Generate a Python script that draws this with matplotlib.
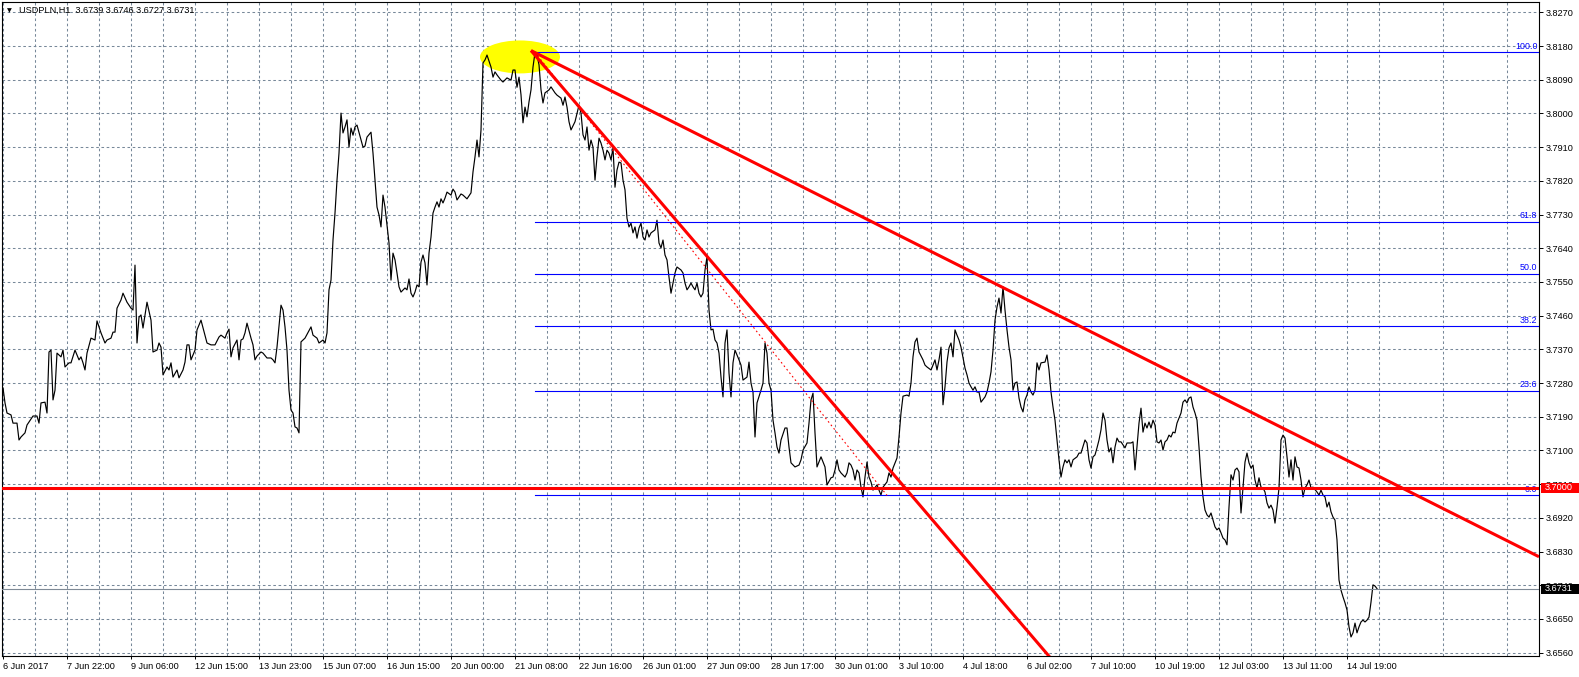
import matplotlib
matplotlib.use('Agg')
import numpy as np
import matplotlib.pyplot as plt
from matplotlib.patches import Ellipse, Rectangle
from matplotlib.transforms import blended_transform_factory

plt.rcParams['font.family'] = ['Liberation Sans', 'DejaVu Sans']

#  USDPLN H1 close, x = bar number counted from the first bar on the chart
bars = [0, 1, 2, 4, 5, 7, 8, 9, 11, 12, 13, 15, 17, 18, 19, 21, 22, 23, 24, 25,
        26, 27, 29, 30, 31, 33, 34, 36, 38, 39, 40, 41, 42, 44, 46, 47, 49, 51, 52, 54,
        55, 56, 57, 59, 60, 62, 64, 65, 66, 67, 68, 69, 70, 71, 72, 74, 75, 77, 78, 79,
        80, 82, 83, 84, 85, 87, 88, 90, 91, 92, 93, 94, 96, 97, 99, 101, 102, 104, 106, 108,
        109, 111, 112, 113, 114, 115, 117, 118, 119, 120, 121, 122, 124, 125, 126, 127, 129, 130, 132, 134,
        135, 136, 137, 139, 140, 141, 142, 143, 144, 145, 146, 147, 148, 149, 151, 154, 155, 157, 158, 160,
        161, 162, 163, 164, 165, 166, 167, 168, 169, 170, 171, 172, 173, 174, 175, 176, 177, 179, 180, 181,
        182, 184, 185, 186, 187, 188, 189, 190, 191, 192, 193, 194, 195, 196, 197, 198, 199, 201, 202, 203,
        204, 205, 206, 207, 208, 209, 210, 211, 212, 213, 214, 215, 216, 217, 218, 219, 220, 221, 222, 224,
        225, 226, 227, 229, 230, 232, 234, 235, 236, 237, 238, 239, 240, 241, 242, 244, 245, 246, 247, 249,
        250, 252, 254, 255, 256, 257, 258, 259, 260, 261, 262, 263, 264, 265, 266, 267, 268, 269, 270, 271,
        273, 274, 276, 277, 279, 280, 281, 282, 283, 284, 286, 288, 289, 290, 291, 292, 293, 294, 295, 296,
        297, 298, 299, 300, 301, 302, 303, 304, 305, 306, 307, 308, 309, 310, 311, 312, 313, 314, 315, 316,
        317, 318, 319, 320, 321, 322, 323, 324, 326, 327, 328, 329, 330, 331, 332, 333, 334, 336, 337, 339,
        340, 341, 342, 343, 344, 345, 346, 347, 348, 349, 350, 351, 352, 353, 354, 355, 356, 357, 358, 359,
        360, 361, 362, 363, 364, 365, 366, 368, 369, 370, 372, 373, 374, 375, 376, 377, 379, 380, 381, 382,
        383, 384, 385, 386, 387, 388, 389, 391, 392, 393, 394, 396, 398, 399, 400, 402, 403, 404, 405, 406,
        407, 409, 411, 412, 414, 415, 416, 417, 418, 419, 421, 422, 423, 424, 425, 426, 427, 428, 429, 430,
        431, 432, 433, 434, 435, 437, 438, 439, 440, 442, 443, 444, 445, 447, 448, 449, 450, 452, 453, 454,
        455, 456, 457, 458, 460, 461, 462, 464, 465, 466, 467, 468, 469, 470, 471, 472, 473, 474, 475, 476,
        477, 478, 479, 481, 482, 483, 484, 485, 486, 487, 488, 489, 491, 492, 493, 494, 495, 496, 497, 498,
        499, 500, 501, 502, 503, 504, 505, 506, 507, 508, 509, 510, 511, 512, 513, 514, 515, 516, 517, 518,
        519, 521, 522, 523, 524, 525, 526, 527, 528, 529, 530, 531, 532, 533, 534, 535, 537, 538, 539, 541,
        542, 543, 544, 545, 546, 547, 548, 549, 550, 551, 552, 553, 554, 555, 556, 557, 558, 559, 561, 562,
        564, 565, 566, 567, 568, 569, 570, 571, 572, 573, 574, 575, 576, 577, 578, 579, 580, 581, 582, 583,
        584, 585, 586, 587, 589, 590, 591, 592, 593, 594, 595, 596, 597, 598, 599, 600, 601, 602, 603, 604,
        605, 606, 607, 608, 609, 610, 611, 612, 613, 614, 615, 616, 617, 618, 619, 620, 621, 622, 623, 624,
        625, 626, 627, 628, 629, 630, 631, 632, 633, 634, 635, 636, 637, 638, 639, 640, 641, 642, 643, 644,
        645, 646, 647, 648, 649, 650, 651, 652, 653, 654, 655, 657, 658, 659, 660, 661, 662, 663, 664, 665,
        666, 667, 668, 669, 670, 671, 672, 673, 674, 675, 676, 677, 678, 679, 680, 681, 682, 683, 684, 685,
        686, 687]

close = [3.7267, 3.7227, 3.7200, 3.7195, 3.7173, 3.7173, 3.7128, 3.7136, 3.7147, 3.7168, 3.7176, 3.7192, 3.7192, 3.7173, 3.7227, 3.7229, 3.7200, 3.7363, 3.7368, 3.7235,
         3.7261, 3.7360, 3.7350, 3.7368, 3.7323, 3.7334, 3.7334, 3.7368, 3.7342, 3.7350, 3.7334, 3.7315, 3.7360, 3.7400, 3.7395, 3.7446, 3.7414, 3.7387, 3.7395, 3.7400,
         3.7416, 3.7416, 3.7480, 3.7502, 3.7520, 3.7496, 3.7480, 3.7475, 3.7595, 3.7387, 3.7456, 3.7462, 3.7427, 3.7462, 3.7496, 3.7448, 3.7363, 3.7368, 3.7387, 3.7376,
         3.7302, 3.7323, 3.7315, 3.7334, 3.7296, 3.7315, 3.7294, 3.7315, 3.7336, 3.7382, 3.7382, 3.7342, 3.7368, 3.7422, 3.7448, 3.7408, 3.7387, 3.7382, 3.7382, 3.7403,
         3.7408, 3.7400, 3.7414, 3.7424, 3.7350, 3.7374, 3.7395, 3.7342, 3.7395, 3.7398, 3.7414, 3.7440, 3.7400, 3.7382, 3.7342, 3.7352, 3.7363, 3.7360, 3.7347, 3.7347,
         3.7342, 3.7334, 3.7376, 3.7488, 3.7475, 3.7430, 3.7368, 3.7261, 3.7208, 3.7200, 3.7163, 3.7160, 3.7147, 3.7390, 3.7400, 3.7430, 3.7408, 3.7400, 3.7387, 3.7395,
         3.7387, 3.7414, 3.7529, 3.7555, 3.7662, 3.7734, 3.7822, 3.7894, 3.8001, 3.7948, 3.7964, 3.7983, 3.7910, 3.7961, 3.7942, 3.7964, 3.7969, 3.7929, 3.7910, 3.7913,
         3.7937, 3.7950, 3.7894, 3.7822, 3.7750, 3.7729, 3.7697, 3.7782, 3.7750, 3.7702, 3.7654, 3.7555, 3.7627, 3.7609, 3.7574, 3.7537, 3.7523, 3.7534, 3.7529, 3.7558,
         3.7520, 3.7510, 3.7523, 3.7542, 3.7537, 3.7603, 3.7622, 3.7601, 3.7542, 3.7627, 3.7670, 3.7734, 3.7750, 3.7764, 3.7750, 3.7772, 3.7761, 3.7774, 3.7790, 3.7782,
         3.7798, 3.7790, 3.7769, 3.7785, 3.7782, 3.7772, 3.7788, 3.7844, 3.7884, 3.7929, 3.7884, 3.7956, 3.8135, 3.8143, 3.8156, 3.8124, 3.8097, 3.8111, 3.8103, 3.8089,
         3.8084, 3.8095, 3.8089, 3.8116, 3.8116, 3.8070, 3.8097, 3.8050, 3.7975, 3.8017, 3.7991, 3.8031, 3.8063, 3.8124, 3.8163, 3.8156, 3.8130, 3.8063, 3.8028, 3.8055,
         3.8063, 3.8071, 3.8055, 3.8049, 3.8041, 3.8022, 3.8044, 3.8017, 3.7978, 3.7956, 3.7978, 3.8022, 3.8001, 3.7943, 3.7929, 3.7964, 3.7902, 3.7929, 3.7910, 3.7822,
         3.7884, 3.7934, 3.7921, 3.7902, 3.7876, 3.7902, 3.7894, 3.7876, 3.7908, 3.7803, 3.7849, 3.7870, 3.7868, 3.7822, 3.7796, 3.7720, 3.7697, 3.7707, 3.7681, 3.7697,
         3.7667, 3.7694, 3.7707, 3.7670, 3.7662, 3.7689, 3.7670, 3.7681, 3.7689, 3.7715, 3.7654, 3.7641, 3.7662, 3.7622, 3.7609, 3.7563, 3.7520, 3.7574, 3.7590, 3.7582,
         3.7574, 3.7547, 3.7529, 3.7537, 3.7547, 3.7537, 3.7529, 3.7547, 3.7520, 3.7510, 3.7520, 3.7582, 3.7617, 3.7475, 3.7422, 3.7424, 3.7395, 3.7387, 3.7360, 3.7296,
         3.7243, 3.7387, 3.7422, 3.7307, 3.7243, 3.7334, 3.7368, 3.7342, 3.7328, 3.7288, 3.7296, 3.7336, 3.7280, 3.7256, 3.7136, 3.7227, 3.7261, 3.7280, 3.7387, 3.7360,
         3.7280, 3.7261, 3.7181, 3.7147, 3.7109, 3.7093, 3.7128, 3.7160, 3.7160, 3.7109, 3.7067, 3.7056, 3.7061, 3.7075, 3.7101, 3.7120, 3.7173, 3.7235, 3.7253, 3.7147,
         3.7056, 3.7083, 3.7056, 3.7008, 3.7027, 3.7029, 3.7048, 3.7075, 3.7048, 3.7040, 3.7029, 3.7040, 3.7067, 3.7061, 3.7048, 3.7021, 3.7048, 3.7040, 3.7002, 3.6976,
         3.7029, 3.7069, 3.7029, 3.7016, 3.6994, 3.7008, 3.6994, 3.6981, 3.7002, 3.7016, 3.7040, 3.7029, 3.7053, 3.7080, 3.7136, 3.7200, 3.7245, 3.7248, 3.7245, 3.7280,
         3.7350, 3.7390, 3.7400, 3.7363, 3.7342, 3.7328, 3.7323, 3.7315, 3.7328, 3.7342, 3.7315, 3.7342, 3.7376, 3.7222, 3.7270, 3.7336, 3.7374, 3.7387, 3.7350, 3.7422,
         3.7408, 3.7395, 3.7376, 3.7320, 3.7302, 3.7280, 3.7270, 3.7261, 3.7270, 3.7256, 3.7256, 3.7229, 3.7243, 3.7256, 3.7280, 3.7310, 3.7368, 3.7448, 3.7483, 3.7507,
         3.7467, 3.7537, 3.7475, 3.7422, 3.7376, 3.7342, 3.7261, 3.7280, 3.7283, 3.7240, 3.7216, 3.7203, 3.7235, 3.7248, 3.7270, 3.7256, 3.7248, 3.7261, 3.7334, 3.7315,
         3.7334, 3.7336, 3.7355, 3.7315, 3.7256, 3.7216, 3.7181, 3.7128, 3.7075, 3.7029, 3.7056, 3.7075, 3.7067, 3.7075, 3.7056, 3.7075, 3.7083, 3.7093, 3.7093, 3.7128,
         3.7120, 3.7075, 3.7053, 3.7083, 3.7088, 3.7107, 3.7128, 3.7155, 3.7200, 3.7181, 3.7128, 3.7096, 3.7107, 3.7067, 3.7109, 3.7133, 3.7123, 3.7123, 3.7107, 3.7120,
         3.7120, 3.7123, 3.7048, 3.7109, 3.7173, 3.7213, 3.7149, 3.7173, 3.7160, 3.7176, 3.7160, 3.7181, 3.7168, 3.7123, 3.7120, 3.7128, 3.7101, 3.7123, 3.7128, 3.7141,
         3.7136, 3.7149, 3.7147, 3.7173, 3.7200, 3.7229, 3.7235, 3.7227, 3.7240, 3.7243, 3.7216, 3.7200, 3.7181, 3.7109, 3.7029, 3.6976, 3.6941, 3.6928, 3.6922, 3.6933,
         3.6914, 3.6896, 3.6888, 3.6893, 3.6880, 3.6866, 3.6861, 3.6848, 3.6949, 3.7035, 3.7021, 3.7048, 3.7053, 3.7043, 3.6933, 3.7002, 3.7069, 3.7093, 3.7067, 3.7053,
         3.7061, 3.7021, 3.7000, 3.7027, 3.7002, 3.7000, 3.6989, 3.6960, 3.6946, 3.6954, 3.6941, 3.6906, 3.6949, 3.7000, 3.7128, 3.7141, 3.7133, 3.7083, 3.7029, 3.7075,
         3.7021, 3.7083, 3.7056, 3.7053, 3.7021, 3.6976, 3.7000, 3.7008, 3.7021, 3.7000, 3.7002, 3.6989, 3.6981, 3.6994, 3.6981, 3.6976, 3.6949, 3.6962, 3.6936, 3.6922,
         3.6914, 3.6861, 3.6754, 3.6727, 3.6709, 3.6693, 3.6674, 3.6629, 3.6602, 3.6613, 3.6639, 3.6613, 3.6629, 3.6642, 3.6647, 3.6642, 3.6647, 3.6655, 3.6695, 3.6741,
         3.6738, 3.6731]

price_ticks = [3.8270, 3.8180, 3.8090, 3.8000, 3.7910, 3.7820, 3.7730, 3.7640, 3.7550, 3.7460,
               3.7370, 3.7280, 3.7190, 3.7100, 3.7010, 3.6920, 3.6830, 3.6740, 3.6650, 3.6560]
time_labels = ['6 Jun 2017', '7 Jun 22:00', '9 Jun 06:00', '12 Jun 15:00', '13 Jun 23:00',
               '15 Jun 07:00', '16 Jun 15:00', '20 Jun 00:00', '21 Jun 08:00', '22 Jun 16:00',
               '26 Jun 01:00', '27 Jun 09:00', '28 Jun 17:00', '30 Jun 01:00', '3 Jul 10:00',
               '4 Jul 18:00', '6 Jul 02:00', '7 Jul 10:00', '10 Jul 19:00', '12 Jul 03:00',
               '13 Jul 11:00', '14 Jul 19:00']
label_every = 32     # bars between time labels
n_view = 768         # bars visible on screen

#  fibonacci retracement anchors and levels
fib_high, fib_low = 3.8163, 3.6980
fib_start, fib_end = 266, 442
fib_levels = [0.0, 23.6, 38.2, 50.0, 61.8, 100.0]

#  trend lines: two anchor points each (bar, price)
trend_slow = [(264, 3.8168), (500, 3.7535)]
trend_fast = [(264, 3.8168), (423.5, 3.7172)]
support = 3.7000
last_price = 3.6731
header = 'USDPLN,H1  3.6739 3.6746 3.6727 3.6731'

W, H = 1579, 677
fig = plt.figure(figsize=(W / 100, H / 100), dpi=100)
ax = fig.add_axes([2 / W, (H - 656) / H, 1537 / W, 654 / H])
ax.set_xlim(-0.5, n_view)
ax.set_ylim(3.65511, 3.82977)

grid_col = '#778899'
ax.set_xticks(np.arange(len(time_labels)) * label_every)
ax.set_xticklabels(time_labels, ha='left')
ax.set_xticks(np.arange(16, n_view, label_every), minor=True)
ax.yaxis.tick_right()
ax.set_yticks(price_ticks)
ax.set_yticklabels(['%.4f' % p for p in price_ticks])
ax.tick_params(axis='x', which='major', length=2.5, width=0.7, pad=1.5, labelsize=6.6)
ax.tick_params(axis='x', which='minor', length=0)
ax.tick_params(axis='y', length=3, width=0.7, pad=1.5, labelsize=6.6)
ax.grid(True, which='both', color=grid_col, lw=0.75, ls=(0, (2.5, 2.5)))
for s in ax.spines.values():
    s.set_linewidth(0.8)
    s.set_color('black')

#  yellow highlight around the top
ax.add_patch(Ellipse((258.5, 3.8151), 40, 0.0088, facecolor='#ffff00',
                     edgecolor='none', zorder=1.8))

ax.plot(bars, close, color='black', lw=0.85, zorder=2.5)

#  fibonacci
for lv in fib_levels:
    p = fib_low + (fib_high - fib_low) * lv / 100.0
    ax.plot([fib_start, n_view], [p, p], color='#0000ff', lw=0.8, zorder=3)
    ax.text(n_view - 0.8, p + 0.0004, '%.1f' % lv, color='#0000ff', fontsize=6.4,
            ha='right', va='bottom', zorder=3)
ax.plot([fib_start, fib_end], [fib_high, fib_low], color='red', lw=0.8,
        ls=(0, (1.5, 2.5)), zorder=3)

#  trend lines extended to the right
for (x1, y1), (x2, y2) in [trend_slow, trend_fast]:
    k = (y2 - y1) / (x2 - x1)
    ax.plot([x1, n_view], [y1, y1 + k * (n_view - x1)], color='red', lw=2.2,
            zorder=4, solid_capstyle='butt')

ax.axhline(support, color='red', lw=2.2, zorder=4)
ax.axhline(last_price, color='#7f8a96', lw=0.8, zorder=3)

#  price boxes on the scale
tr = blended_transform_factory(ax.transAxes, ax.transData)
fx = lambda px: (px - 2) / 1537.0
for p, col in [(support, 'red'), (last_price, 'black')]:
    ax.add_patch(Rectangle((fx(1541), p - 0.00137), fx(1579) - fx(1541), 0.00274,
                           transform=tr, facecolor=col, edgecolor='none',
                           clip_on=False, zorder=5))
    ax.text(fx(1545), p, '%.4f' % p, transform=tr, color='white', fontsize=6.6,
            ha='left', va='center', clip_on=False, zorder=6)

fig.text(6.5 / W, 1 - 10.5 / H, '\u25bc', family='DejaVu Sans', fontsize=4.5,
         ha='left', va='center')
fig.text(19 / W, 1 - 10.5 / H, header, fontsize=6.6, ha='left', va='center')

fig.savefig('out.png', dpi=100)
